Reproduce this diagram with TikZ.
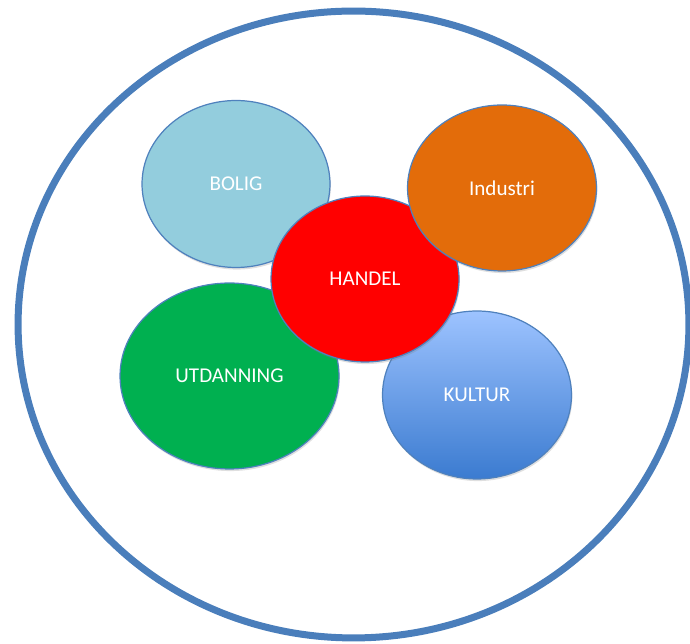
\documentclass[tikz,border=0pt]{standalone}
\usepackage{fontspec}
\setmainfont{Carlito}
\usepackage{tikz}
\usetikzlibrary{shapes.geometric,shadows}

\definecolor{rammeblaa}{HTML}{4A7EBB}
\definecolor{kantblaa}{HTML}{4F81BD}
\definecolor{boligfarge}{HTML}{93CDDD}
\definecolor{industrifarge}{HTML}{E36C0A}
\definecolor{handelfarge}{HTML}{FF0000}
\definecolor{utdanningfarge}{HTML}{00B050}
\definecolor{kulturtopp}{HTML}{9DC3FF}
\definecolor{kulturbunn}{HTML}{3B7BD0}

\begin{document}
\begin{tikzpicture}[x=0.02cm,y=0.02cm]
\tikzstyle{every node}+=[inner sep=0pt]
\tikzstyle{omraade}=[ellipse,draw=kantblaa,line width=0.7pt,text=white,font=\fontsize{12}{14}\selectfont,
  drop shadow={opacity=0.25,shadow xshift=0.5pt,shadow yshift=-1.2pt}]
\useasboundingbox (0,0) rectangle (690,-644);
\node [ellipse,draw=rammeblaa,line width=0.14cm,minimum width=13.42cm,minimum height=12.54cm] (ramme) at (353.5,-324.5) {};
\node [omraade,fill=boligfarge,minimum width=3.76cm,minimum height=3.34cm] (bolig) at (236,-184) {BOLIG};
\node [omraade,fill=utdanningfarge,minimum width=4.38cm,minimum height=3.72cm] (utdanning) at (229.5,-376) {UTDANNING};
\node [omraade,top color=kulturtopp,bottom color=kulturbunn,minimum width=3.78cm,minimum height=3.36cm] (kultur) at (477,-395) {KULTUR};
\node [omraade,fill=handelfarge,minimum width=3.76cm,minimum height=3.32cm] (handel) at (365,-279) {HANDEL};
\node [omraade,fill=industrifarge,minimum width=3.78cm,minimum height=3.32cm] (industri) at (502,-188) {Industri};
\end{tikzpicture}
\end{document}
